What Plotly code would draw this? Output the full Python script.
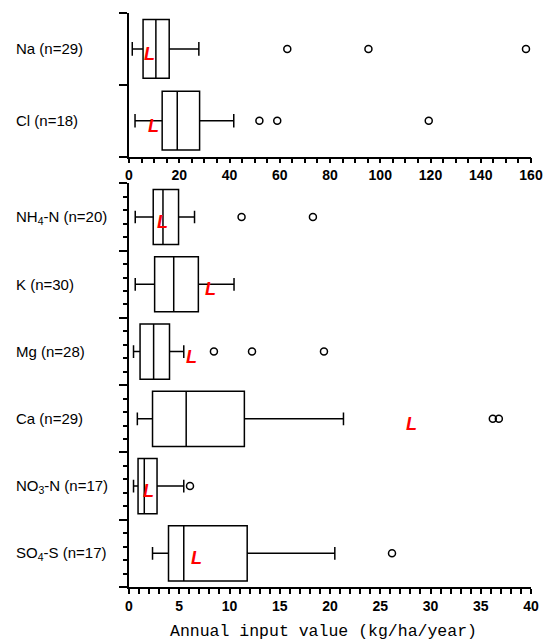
import plotly.graph_objects as go

# ---- data: annual input values (kg/ha/year) ----
top_labels = ["Na (n=29)", "Cl (n=18)"]
top_low = [1.3, 2.4]
top_q1 = [5.6, 13.2]
top_med = [10.7, 19.2]
top_q3 = [16.0, 28.1]
top_high = [27.8, 41.7]
top_outliers = [[63.0, 95.3, 158.0], [51.9, 59.0, 119.3]]
top_L = [8.0, 9.8]

bot_labels = ["NH<sub>4</sub>-N (n=20)", "K (n=30)", "Mg (n=28)",
              "Ca (n=29)", "NO<sub>3</sub>-N (n=17)", "SO<sub>4</sub>-S (n=17)"]
bot_low = [0.62, 0.62, 0.45, 0.83, 0.45, 2.34]
bot_q1 = [2.41, 2.55, 1.10, 2.34, 0.90, 3.93]
bot_med = [3.38, 4.45, 2.45, 5.69, 1.52, 5.45]
bot_q3 = [4.93, 6.90, 4.03, 11.48, 2.79, 11.76]
bot_high = [6.52, 10.45, 5.45, 21.34, 5.45, 20.48]
bot_outliers = [[11.2, 18.3], [], [8.45, 12.24, 19.4], [36.2, 36.8], [6.07], [26.17]]
bot_L = [3.3, 8.14, 6.2, 28.1, 1.9, 6.69]

x_title = "Annual input value (kg/ha/year)"

# ---- layout geometry (pixels) ----
W, H = 546, 642
ML, MR, MT, MB = 129.3, 15, 13.3, 55.3
PW = W - ML - MR
PH = H - MT - MB


def ypaper(py):
    return (H - MB - py) / PH


def xpaper(px):
    return (px - ML) / PW


fig = go.Figure()
annotations = []


def add_panel(labels, low, q1, med, q3, high, outliers, Lvals, xa, ya):
    n = len(labels)
    pos = [n - 1 - i for i in range(n)]  # first category on top
    fig.add_trace(go.Box(
        y=pos, q1=q1, median=med, q3=q3, lowerfence=low, upperfence=high,
        orientation="h", width=0.82, whiskerwidth=0.23, boxpoints=False,
        line=dict(color="black", width=1.5), fillcolor="rgba(0,0,0,0)",
        xaxis=xa, yaxis=ya, showlegend=False, hoverinfo="skip"))
    ox, oy = [], []
    for p, vals in zip(pos, outliers):
        ox += vals
        oy += [p] * len(vals)
    fig.add_trace(go.Scatter(
        x=ox, y=oy, mode="markers", xaxis=xa, yaxis=ya, showlegend=False,
        marker=dict(symbol="circle-open", size=7, color="black",
                    line=dict(width=1.5, color="black"))))
    for p, lab, lv in zip(pos, labels, Lvals):
        annotations.append(dict(
            x=xpaper(14), xref="paper", y=p, yref=ya, text=lab,
            xanchor="left", yanchor="middle", showarrow=False,
            font=dict(family="Liberation Sans", size=15, color="black")))
        annotations.append(dict(
            x=lv, xref=xa, y=p, yref=ya, text="L", yshift=-5,
            xanchor="center", yanchor="middle", showarrow=False,
            font=dict(family="Liberation Sans", size=18, color="#ff0000",
                      weight="bold", style="italic")))


add_panel(top_labels, top_low, top_q1, top_med, top_q3, top_high,
          top_outliers, top_L, "x", "y")
add_panel(bot_labels, bot_low, bot_q1, bot_med, bot_q3, bot_high,
          bot_outliers, bot_L, "x2", "y2")

annotations.append(dict(
    x=xpaper(323.3), xref="paper", y=ypaper(631.5), yref="paper",
    text=x_title, showarrow=False, xanchor="center", yanchor="middle",
    font=dict(family="Liberation Mono", size=16.5, color="black")))

tickfont = dict(family="Liberation Sans", size=14, color="black", weight="bold")
common_x = dict(showgrid=False, zeroline=False, showline=True, linecolor="black",
                linewidth=1.5, ticks="outside", ticklen=5, tickwidth=1.5,
                tickcolor="black", tickfont=tickfont, fixedrange=True,
                automargin=False)
common_y = dict(showgrid=False, zeroline=False, showline=True, linecolor="black",
                linewidth=1.5, ticks="outside", ticklen=8, tickwidth=1.5,
                tickcolor="black", showticklabels=False, fixedrange=True,
                automargin=False)

fig.update_layout(
    width=W, height=H, autosize=False,
    margin=dict(l=ML, r=MR, t=MT, b=MB, pad=0, autoexpand=False),
    paper_bgcolor="white", plot_bgcolor="white",
    showlegend=False,
    annotations=annotations,
    xaxis=dict(**common_x, anchor="y", domain=[0, 1], range=[0, 160],
               tickmode="linear", tick0=0, dtick=20,
               minor=dict(ticks="outside", dtick=5, tick0=0, ticklen=5,
                          tickwidth=1.5, tickcolor="black", showgrid=False)),
    yaxis=dict(**common_y, anchor="x", domain=[ypaper(156.7), 1],
               range=[-0.5, 1.5], tickmode="linear", tick0=-0.5, dtick=1),
    xaxis2=dict(**common_x, anchor="y2", domain=[0, 1], range=[0, 40],
                tickmode="linear", tick0=0, dtick=5,
                minor=dict(ticks="outside", dtick=1, tick0=0, ticklen=5,
                           tickwidth=1.5, tickcolor="black", showgrid=False)),
    yaxis2=dict(**common_y, anchor="x2", domain=[0, ypaper(183.5)],
                range=[-0.5, 5.5], tickmode="linear", tick0=-0.5, dtick=1,
                minor=dict(ticks="outside", dtick=0.2, tick0=-0.5, ticklen=4,
                           tickwidth=1.5, tickcolor="black", showgrid=False)),
)

fig.write_html("out.html")
